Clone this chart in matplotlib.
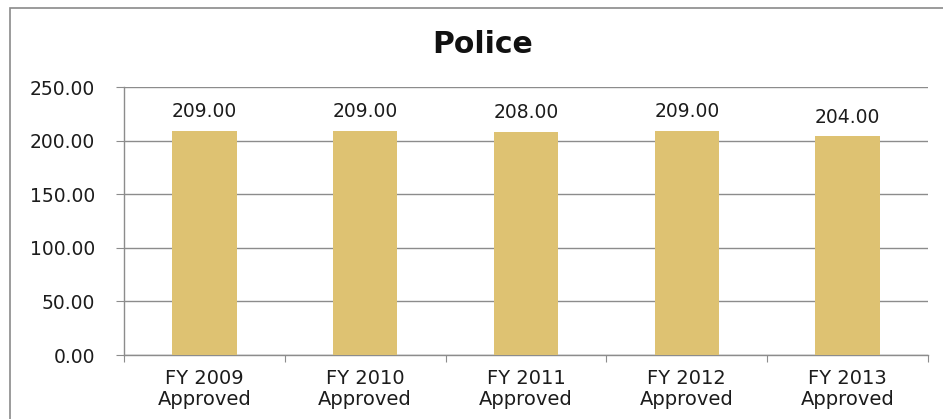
import matplotlib
matplotlib.use("Agg")
import matplotlib.pyplot as plt
from matplotlib.patches import Rectangle

categories = ["FY 2009\nApproved", "FY 2010\nApproved", "FY 2011\nApproved",
              "FY 2012\nApproved", "FY 2013\nApproved"]
values = [209.00, 209.00, 208.00, 209.00, 204.00]
yticks = [0, 50, 100, 150, 200, 250]
title = "Police"

W, H = 943, 419
plt.rcParams['font.family'] = ['DejaVu Sans']
fig = plt.figure(figsize=(W / 100, H / 100), dpi=100)

TXT = "#1c1c1c"
GRID = "#8c8c8c"

# outer chart border
fig.patches.append(Rectangle((10 / W, -0.05), 1.1, (H - 8) / H + 0.05,
                             transform=fig.transFigure, fill=False,
                             edgecolor="#8a8a8a", linewidth=1.2))

left, right, top, bottom = 124, 928, 87, 355
ax = fig.add_axes([left / W, 1 - bottom / H, (right - left) / W, (bottom - top) / H])

x = list(range(len(values)))
ax.bar(x, values, width=0.4, color="#DEC272", zorder=3)
ax.set_xlim(-0.5, len(values) - 0.5)
ax.set_ylim(0, 250)
ax.set_yticks(yticks)
ax.set_yticklabels([f"{v:.2f}" for v in yticks], fontsize=13.5, color=TXT)
ax.yaxis.grid(True, color=GRID, linewidth=1.0, zorder=0)

ax.set_xticks([i - 0.5 for i in range(len(values) + 1)], minor=False)
ax.set_xticklabels([])
ax.set_xticks(x, minor=True)
ax.set_xticklabels(categories, minor=True, fontsize=14, color=TXT, linespacing=1.15)
ax.tick_params(axis="x", which="minor", length=0, pad=10)
ax.tick_params(axis="x", which="major", length=5, color=GRID, direction="out")
ax.tick_params(axis="y", length=6, color=GRID, pad=15)

for s in ["top", "right"]:
    ax.spines[s].set_visible(False)
for s in ["left", "bottom"]:
    ax.spines[s].set_color(GRID)
    ax.spines[s].set_linewidth(1.0)

for xi, v in zip(x, values):
    ax.annotate(f"{v:.2f}", (xi, v), xytext=(0, 7), textcoords="offset points",
                ha="center", va="bottom", fontsize=13.5, color=TXT)

fig.text(483 / W, 1 - 53 / H, title, ha="center", va="baseline",
         fontsize=21.5, fontweight="bold", color="#111111")

fig.savefig("out.png", dpi=100)
